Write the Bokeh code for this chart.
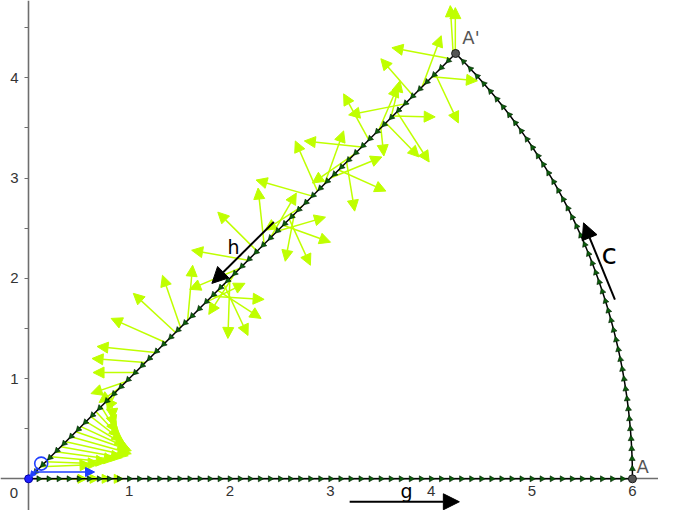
import numpy as np
from bokeh.plotting import figure
from bokeh.models import ColumnDataSource, Arrow, NormalHead, FixedTicker, LinearAxis
from bokeh.core.properties import value
from bokeh.embed import file_html
from bokeh.resources import INLINE

# ---------------- data ----------------
radius = 6.0                 # arc radius (A = (6,0))
sector_deg = 45.0            # A' = A rotated by 45 degrees
marker_step = 0.1            # spacing of orientation markers along C

x_ticks = [1, 2, 3, 4, 5, 6]
x_tick_labels = ["1", "2", "3", "4", "5", "6"]
y_ticks = [1, 2, 3, 4]
y_tick_labels = ["1", "2", "3", "4"]
y_minor_ticks = [0.5, 1.5, 2.5, 3.5, 4.5]

# vector field drawn at points (t, t) of segment h
field_t = [0.12, 0.17, 0.22, 0.27, 0.32, 0.37, 0.42, 0.47, 0.52, 0.57, 0.62, 0.67,
           0.72, 0.77, 0.82, 0.87, 0.92, 0.97,
           1.06, 1.16, 1.26, 1.36, 1.46, 1.51, 1.58,
           1.76, 1.82, 1.88, 1.94, 2.00, 2.05, 2.10, 2.18, 2.27, 2.34,
           2.40, 2.47, 2.53, 2.59, 2.64, 2.72, 2.82, 2.87, 2.94, 3.00,
           3.08, 3.16, 3.24, 3.31, 3.38, 3.48, 3.50, 3.55, 3.60, 3.62,
           3.66, 3.74, 3.82, 3.91, 4.01, 4.04, 4.19, 4.22, 4.24]
field_tip_x = [0.62, 0.70, 0.78, 0.86, 0.93, 0.99, 1.02, 1.02, 1.00, 0.97, 0.94, 0.91,
               0.88, 0.86, 0.84, 0.78, 0.70, 0.62,
               0.64, 0.63, 0.68, 0.82, 1.04, 1.33, 1.63,
               2.15, 2.34, 2.31, 2.18, 1.98, 1.79, 1.60, 1.62, 1.88, 2.28,
               2.66, 2.95, 3.00, 2.80, 2.55, 2.35, 2.26, 2.65, 3.13, 3.51,
               3.55, 3.24, 2.82, 2.74, 3.13, 3.67, 3.53, 3.88, 3.69, 4.04,
               3.98, 3.18, 3.50, 4.10, 4.46, 4.27, 3.61, 4.19, 4.24]
field_tip_y = [0.14, 0.15, 0.17, 0.19, 0.21, 0.23, 0.25, 0.28, 0.30, 0.33, 0.37, 0.41,
               0.46, 0.52, 0.59, 0.68, 0.76, 0.85,
               1.06, 1.20, 1.32, 1.60, 1.85, 2.03, 2.13,
               1.95, 1.79, 1.60, 1.43, 1.40, 1.64, 1.89, 2.28, 2.66, 2.90,
               2.85, 2.61, 2.36, 2.13, 2.17, 2.48, 2.98, 3.37, 3.47, 3.21,
               2.87, 2.67, 2.95, 3.37, 3.84, 3.92, 3.22, 3.21, 3.97, 3.61,
               3.16, 3.63, 4.19, 4.42, 3.97, 3.55, 4.30, 4.72, 4.70]

# field vectors on segment g near O
g_field_x = [0.08, 0.20, 0.32, 0.44]
g_field_len = [0.50, 0.50, 0.50, 0.50]

YELLOW = "#bfff00"
GREEN = "#0b5c0b"

# ---------------- figure ----------------
p = figure(width=658, height=510, x_range=(-0.2795, 6.259), y_range=(-0.316, 4.771),
           toolbar_location=None, output_backend="svg", min_border=0,
           x_axis_type=None, y_axis_type=None)
p.grid.visible = False
p.outline_line_color = None
p.background_fill_color = "white"

xax = LinearAxis(fixed_location=0, ticker=FixedTicker(ticks=x_ticks, minor_ticks=[]),
                 major_label_overrides={t: l for t, l in zip(x_ticks, x_tick_labels)})
yax = LinearAxis(fixed_location=0, ticker=FixedTicker(ticks=y_ticks, minor_ticks=y_minor_ticks),
                 major_label_overrides={t: l for t, l in zip(y_ticks, y_tick_labels)})
for ax in (xax, yax):
    ax.axis_line_color = "#6e6e6e"
    ax.axis_line_width = 1.6
    ax.major_tick_line_color = "#6e6e6e"
    ax.minor_tick_line_color = "#6e6e6e"
    ax.major_label_text_font = "Liberation Sans"
    ax.major_label_text_font_size = "15px"
    ax.major_label_text_color = "#333333"
    ax.level = "underlay"
xax.major_tick_out = 0
xax.major_tick_in = 0
xax.minor_tick_out = 0
xax.major_label_standoff = 7
yax.major_tick_out = 4
yax.major_tick_in = 0
yax.minor_tick_out = 4
yax.minor_tick_in = 0
yax.major_label_standoff = 6
p.add_layout(xax, "below")
p.add_layout(yax, "left")

# vector field (yellow)
fsrc = ColumnDataSource(dict(xs=field_t, ys=field_t, xe=field_tip_x, ye=field_tip_y))
p.add_layout(Arrow(x_start="xs", y_start="ys", x_end="xe", y_end="ye", source=fsrc,
                   line_color=YELLOW, line_width=1.5, level="underlay",
                   end=NormalHead(size=11, fill_color=YELLOW, line_color=YELLOW, line_width=1)))
gsrc = ColumnDataSource(dict(xs=g_field_x, ys=[0.0] * len(g_field_x),
                             xe=[a + b for a, b in zip(g_field_x, g_field_len)],
                             ye=[0.0] * len(g_field_x)))
p.add_layout(Arrow(x_start="xs", y_start="ys", x_end="xe", y_end="ye", source=gsrc,
                   line_color=YELLOW, line_width=1.5, level="underlay",
                   end=NormalHead(size=9, fill_color=YELLOW, line_color=YELLOW, line_width=1)))

# curve C
phi = np.deg2rad(sector_deg)
ax_, ay_ = radius * np.cos(phi), radius * np.sin(phi)
arc_th = np.linspace(0, phi, 120)
p.line([0, radius], [0, 0], line_color="black", line_width=1.5)
p.line(radius * np.cos(arc_th), radius * np.sin(arc_th), line_color="black", line_width=1.5)
p.line([ax_, 0], [ay_, 0], line_color="black", line_width=1.5)

# orientation markers (triangle points up; angle rotates counter-clockwise)
gx = np.arange(marker_step, radius - 0.04, marker_step)
p.scatter(gx, np.zeros_like(gx), marker="triangle", size=6, angle=-np.pi / 2,
          fill_color=GREEN, line_color="#002000", line_width=0.6)
th = np.arange(marker_step / radius, phi - 0.005, marker_step / radius)
p.scatter(radius * np.cos(th), radius * np.sin(th), marker="triangle", size=6, angle=th,
          fill_color=GREEN, line_color="#002000", line_width=0.6)
s = np.arange(marker_step, radius - 0.04, marker_step)
p.scatter(ax_ - s * np.cos(phi), ay_ - s * np.sin(phi), marker="triangle", size=6,
          angle=phi + np.pi / 2,
          fill_color=GREEN, line_color="#002000", line_width=0.6)

# blue elements at O
p.add_layout(Arrow(x_start=0.05, y_start=0.068, x_end=0.655, y_end=0.068,
                   line_color="#1f3fff", line_width=1.5,
                   end=NormalHead(size=9, fill_color="#1f3fff", line_color="#1f3fff")))
p.add_layout(Arrow(x_start=0.09, y_start=0.11, x_end=0.015, y_end=0.015,
                   line_color="#1f3fff", line_width=1.5,
                   end=NormalHead(size=6, fill_color="#1f3fff", line_color="#1f3fff")))
p.scatter([0.125], [0.152], marker="circle", size=13, fill_color=None,
          line_color="#1f3fff", line_width=1.6)
p.scatter([0], [0], marker="circle", size=8, fill_color="#1f1fff", line_color="#0000aa")

# points A, A'
p.scatter([radius, ax_], [0, ay_], marker="circle", size=8, fill_color="#555555",
          line_color="#1a1a1a", line_width=1)
p.text([6.04, 4.31], [0.02, 4.30], text=["A", "A'"], text_font=value("DejaVu Sans"),
       text_font_size="18px", text_color="#555555", text_baseline="bottom", text_align="left")
p.text([-0.145], [-0.145], text=["0"], text_font=value("Liberation Sans"),
       text_font_size="15px", text_color="#333333", text_baseline="middle", text_align="center")

# orientation arrows with labels
for (x0, y0, x1, y1) in [(3.19, -0.229, 4.28, -0.229), (2.437, 2.562, 1.821, 1.949),
                         (5.826, 1.788, 5.514, 2.553)]:
    p.add_layout(Arrow(x_start=x0, y_start=y0, x_end=x1, y_end=y1, line_color="black",
                       line_width=2, end=NormalHead(size=16, fill_color="black",
                                                    line_color="black")))
p.text([3.755, 2.035, 5.77], [-0.12, 2.315, 2.24], text=["g", "h", "c"],
       text_font=value("DejaVu Sans"), text_font_size=["19px", "19px", "28px"],
       text_color="black", text_baseline="middle", text_align="center")

open("out.html", "w").write(file_html(p, INLINE))
